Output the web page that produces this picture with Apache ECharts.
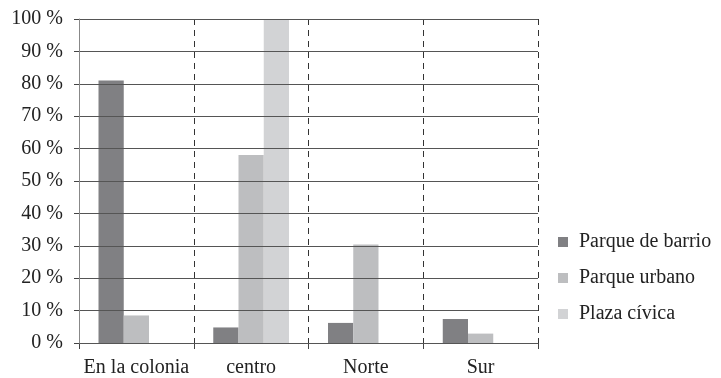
<!DOCTYPE html>
<html>
<head>
<meta charset="utf-8">
<script src="https://cdn.jsdelivr.net/npm/echarts@6/dist/echarts.min.js"></script>
<style>
  html, body { margin: 0; padding: 0; background: #fff; }
  #chart { width: 721px; height: 378px; }
</style>
</head>
<body>
<div id="chart"></div>
<script>
// Zones and the share of each type of public space (percent)
const categories = ['En la colonia', 'centro', 'Norte', 'Sur'];
const seriesNames = ['Parque de barrio', 'Parque urbano', 'Plaza cívica'];
const parqueBarrio = [81, 4.8, 6.2, 7.4];
const parqueUrbano = [8.5, 58, 30.4, 2.9];
const plazaCivica = [0, 100, 0, 0];
const yTicks = [0, 10, 20, 30, 40, 50, 60, 70, 80, 90, 100];

const colors = ['#808083', '#bdbec0', '#d2d3d5'];
const font = '"Liberation Serif", "DejaVu Serif", serif';

const chart = echarts.init(document.getElementById('chart'));
const values = [parqueBarrio, parqueUrbano, plazaCivica];

chart.setOption({
  animation: false,
  textStyle: { fontFamily: font },
  grid: { left: 79, right: 183, top: 19, bottom: 35 },
  legend: {
    orient: 'vertical',
    left: 553,
    top: 227,
    itemWidth: 10,
    itemHeight: 10,
    itemGap: 16,
    icon: 'rect',
    data: seriesNames,
    textStyle: { fontFamily: font, fontSize: 20, color: '#222', padding: [0, 0, 0, 6] }
  },
  xAxis: {
    type: 'category',
    data: categories,
    axisLine: { lineStyle: { color: '#444', width: 1 } },
    axisTick: { show: true, interval: 0, length: 6, lineStyle: { color: '#444' } },
    axisLabel: { interval: 0, fontFamily: font, fontSize: 20, color: '#222', margin: 15 },
    splitLine: { show: true, interval: 0, lineStyle: { color: '#333', type: [6, 5], width: 1 } }
  },
  yAxis: {
    type: 'value',
    min: yTicks[0],
    max: yTicks[yTicks.length - 1],
    interval: 10,
    z: 5,
    axisLine: { show: true, lineStyle: { color: '#888', width: 1 } },
    axisTick: { show: true, length: 5, lineStyle: { color: '#444' } },
    axisLabel: { fontFamily: font, fontSize: 20, color: '#222', margin: 16, formatter: '{value} %' },
    splitLine: { show: true, lineStyle: { color: '#555', width: 1.2 } }
  },
  series: seriesNames.map((name, i) => ({
    name,
    type: 'bar',
    data: values[i],
    barGap: '0%',
    barCategoryGap: '34%',
    itemStyle: { color: colors[i] }
  }))
});
</script>
</body>
</html>
